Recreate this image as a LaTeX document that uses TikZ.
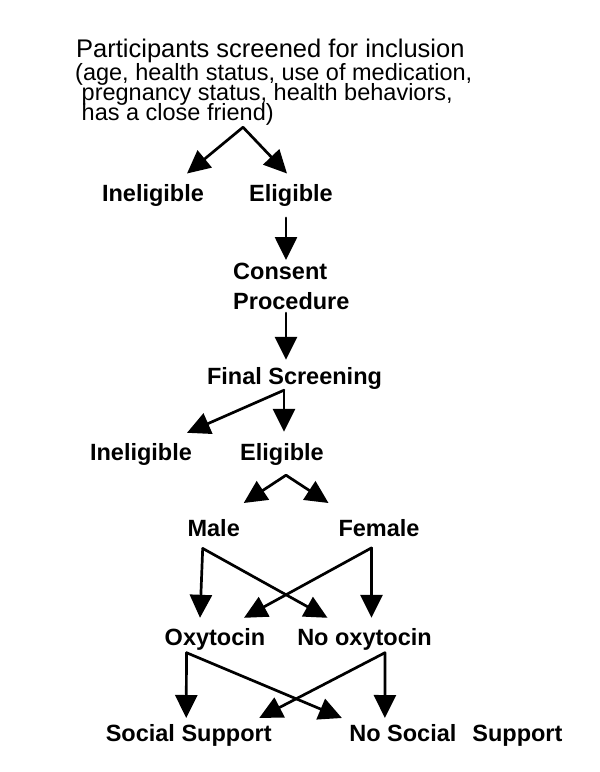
\documentclass[tikz,border=0pt]{standalone}
\usepackage{fontspec}
\setmainfont{Liberation Sans}
\usetikzlibrary{arrows.meta}
\setlength{\lineskiplimit}{-\maxdimen}
\begin{document}
\begin{tikzpicture}[x=1pt,y=1pt]
\tikzstyle{stage}=[inner sep=0pt, anchor=base, text height=17pt, text depth=5pt, font=\fontsize{23.5}{28}\selectfont\bfseries]
\tikzstyle{flow}=[-{Triangle[length=23pt,width=22pt]}, line width=2.7pt, line cap=round]
\useasboundingbox (0,0) rectangle (600,-772);
\node[inner sep=0pt, anchor=north west, align=left, font=\fontsize{23.5}{20}\selectfont] (screen) at (75,-38.5)
	{\hspace*{1pt}{\fontsize{25.5}{20}\selectfont Participants screened for inclusion}\\[3pt]
	(age, health status, use of medication,\\
	\hspace*{6.5pt}pregnancy status, health behaviors,\\
	\hspace*{6.5pt}has a close friend)};
\node[stage] (inel1) at (153,-201.7) {Ineligible};
\node[stage] (elig1) at (291,-201.7) {Eligible};
\node[inner sep=0pt, anchor=north west, align=left, font=\fontsize{23.5}{30}\selectfont\bfseries] (consent) at (233,-263) {Consent\\Procedure};
\node[stage] (final) at (294.5,-384) {Final Screening};
\node[stage] (inel2) at (141,-460) {Ineligible};
\node[stage] (elig2) at (282,-460) {Eligible};
\node[stage] (male) at (213.7,-536.7) {Male};
\node[stage] (female) at (379,-536.7) {Female};
\node[stage] (oxy) at (215,-645) {Oxytocin};
\node[stage] (nooxy) at (364.5,-645) {No oxytocin};
\node[stage] (social) at (188.7,-741.7) {Social Support};
\node[stage] (nosocial) at (455.9,-741.7) {No Social\hspace{0.68em}Support};

\draw[flow] ([xshift=168pt,yshift=-2pt]screen.south west) -- ([xshift=34pt,yshift=11pt]inel1.north);
\draw[flow] ([xshift=168pt,yshift=-2pt]screen.south west) -- ([xshift=-4pt,yshift=11pt]elig1.north);
\draw[flow] ([xshift=-5pt,yshift=-11pt]elig1.south) -- ([xshift=53pt,yshift=3pt]consent.north west);
\draw[flow] ([xshift=53pt,yshift=-3pt]consent.south west) -- ([xshift=-8.5pt,yshift=7pt]final.north);
\draw[flow] ([xshift=-10.5pt,yshift=-1pt]final.south) -- ([xshift=46pt,yshift=10pt]inel2.north);
\draw[flow] ([xshift=-10.5pt,yshift=-1pt]final.south) -- ([xshift=2pt,yshift=11pt]elig2.north);
\draw[flow] ([xshift=4pt,yshift=-10pt]elig2.south) -- ([xshift=30pt,yshift=16.5pt]male.north);
\draw[flow] ([xshift=4pt,yshift=-10pt]elig2.south) -- ([xshift=-50.5pt,yshift=16.5pt]female.north);
\draw[flow] ([xshift=-11pt,yshift=-6.5pt]male.south) -- ([xshift=-15pt,yshift=10pt]oxy.north);
\draw[flow] ([xshift=-11pt,yshift=-6.5pt]male.south) -- ([xshift=-37pt,yshift=10pt]nooxy.north);
\draw[flow] ([xshift=-7.5pt,yshift=-6pt]female.south) -- ([xshift=29pt,yshift=10pt]oxy.north);
\draw[flow] ([xshift=-7.5pt,yshift=-6pt]female.south) -- ([xshift=7pt,yshift=10pt]nooxy.north);
\draw[flow] ([xshift=-28.5pt,yshift=-2.5pt]oxy.south) -- ([xshift=-2.5pt,yshift=6.5pt]social.north);
\draw[flow] ([xshift=-28.5pt,yshift=-2.5pt]oxy.south) -- ([xshift=-114pt,yshift=6.5pt]nosocial.north);
\draw[flow] ([xshift=20.5pt,yshift=-2.5pt]nooxy.south) -- ([xshift=70.5pt,yshift=6.5pt]social.north);
\draw[flow] ([xshift=20.5pt,yshift=-2.5pt]nooxy.south) -- ([xshift=-71pt,yshift=6.5pt]nosocial.north);
\end{tikzpicture}
\end{document}
